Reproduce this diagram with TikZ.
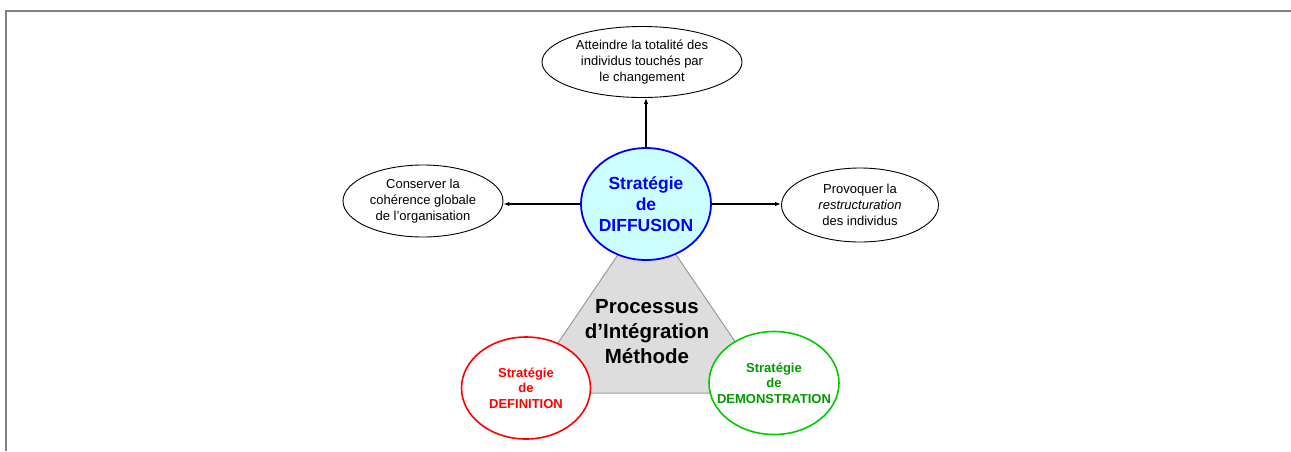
\documentclass[tikz,border=0pt]{standalone}
\usepackage{fontspec}
\setmainfont{Liberation Sans}
\usetikzlibrary{shapes.geometric,arrows.meta}
\definecolor{cyanfill}{HTML}{CCFFFF}
\definecolor{diffblue}{HTML}{0000FF}
\definecolor{trifill}{HTML}{DDDDDD}
\definecolor{triborder}{HTML}{9A9A9A}
\definecolor{gborder}{HTML}{00CC00}
\definecolor{gtext}{HTML}{009900}
\definecolor{redc}{HTML}{FF0000}
\definecolor{framec}{HTML}{808080}
\begin{document}
\begin{tikzpicture}[x=1pt,y=-1pt,
  oval/.style={ellipse,draw=black,fill=white,line width=0.9pt,inner sep=0pt},
  small/.style={font=\fontsize{13}{16}\selectfont,align=center},
  stratfont/.style={font=\fontsize{13}{15.5}\selectfont\bfseries,align=center},
  arr/.style={-{Latex[length=6pt,width=4.5pt]},line width=1.4pt}]
\useasboundingbox (0,0) rectangle (1291,451);
\draw[framec,line width=2.2pt] (6,451) -- (6,11) -- (1291,11);
% triangle
\coordinate (tapex) at (647,212);
\coordinate (tleft) at (524,393);
\coordinate (tright) at (770,393);
\draw[triborder,fill=trifill,line width=1pt] (tapex) -- (tleft) -- (tright) -- cycle;
\node[font=\fontsize{20.5}{25}\selectfont\bfseries,align=center] (proc) at (647,332)
  {Processus\\d’Intégration\\Méthode};
% centre
\node[ellipse,draw=diffblue,fill=cyanfill,line width=1.8pt,minimum width=130pt,minimum height=112pt,inner sep=0pt,
  label={[font=\fontsize{17.5}{21}\selectfont\bfseries,text=diffblue,align=center]center:{Stratégie\\de\\DIFFUSION}}] (diff) at (646,204) {};
% outer ellipses
\node[oval,minimum width=200pt,minimum height=71pt,
  label={[small]center:{Atteindre la totalité des\\individus touchés par\\le changement}}] (top) at (642,62) {};
\node[oval,minimum width=160pt,minimum height=72pt,
  label={[small]center:{Conserver la\\cohérence globale\\de l’organisation}}] (left) at (423,201) {};
\node[oval,minimum width=157pt,minimum height=74pt,
  label={[small]center:{Provoquer la\\\textit{restructuration}\\des individus}}] (right) at (860,205) {};
% bottom strategies
\node[ellipse,draw=redc,fill=white,line width=1.6pt,minimum width=129pt,minimum height=102pt,inner sep=0pt,
  label={[stratfont,text=redc]center:{Stratégie\\de\\DEFINITION}}] (defn) at (526,388) {};
\node[ellipse,draw=gborder,fill=white,line width=1.6pt,minimum width=130pt,minimum height=103pt,inner sep=0pt,
  label={[stratfont,text=gtext]center:{Stratégie\\de\\DEMONSTRATION}}] (demo) at (774,383) {};
% arrows
\draw[arr] (diff.north) -- (diff.north |- top.south);
\draw[arr] (diff.west) -- (diff.west -| left.east);
\draw[arr] (diff.east) -- (diff.east -| right.west);
\end{tikzpicture}
\end{document}
